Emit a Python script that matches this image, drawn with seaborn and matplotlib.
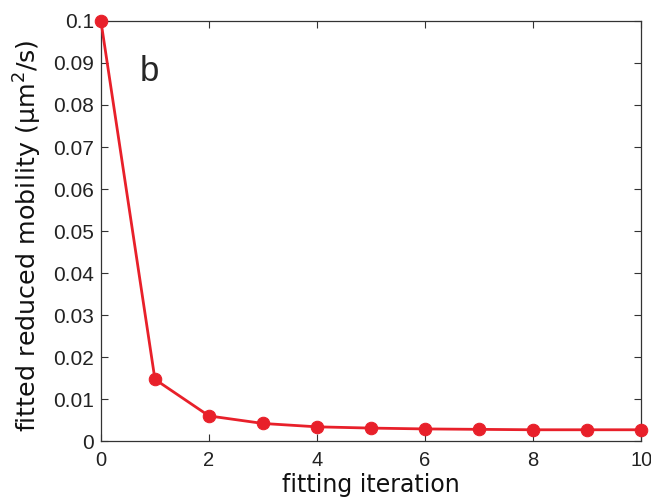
import matplotlib
matplotlib.use("Agg")
import matplotlib.pyplot as plt
import seaborn as sns
import pandas as pd

iterations = [0, 1, 2, 3, 4, 5, 6, 7, 8, 9, 10]
mobility = [0.1, 0.0147, 0.0060, 0.0042, 0.0034, 0.0031, 0.0029, 0.0028, 0.0027, 0.0027, 0.0027]
yticks = [0, 0.01, 0.02, 0.03, 0.04, 0.05, 0.06, 0.07, 0.08, 0.09, 0.1]
ytick_labels = ["0", "0.01", "0.02", "0.03", "0.04", "0.05", "0.06", "0.07", "0.08", "0.09", "0.1"]
xticks = [0, 2, 4, 6, 8, 10]

sns.set_style("white")
plt.rcParams['font.family'] = ['DejaVu Sans']

df = pd.DataFrame({"iteration": iterations, "mobility": mobility})

fig = plt.figure(figsize=(6.51, 4.99), dpi=100)
ax = fig.add_axes([0.155, 0.116, 0.83, 0.842])
sns.lineplot(data=df, x="iteration", y="mobility", ax=ax, color="#e8202a",
             linewidth=2, marker="o", markersize=9, markeredgecolor="#e8202a",
             clip_on=False, zorder=5)

ax.set_xlim(0, 10)
ax.set_ylim(0, 0.1)
ax.set_xticks(xticks)
ax.set_xticklabels([str(x) for x in xticks], fontfamily="Liberation Sans", fontsize=14.5)
ax.set_yticks(yticks)
ax.set_yticklabels(ytick_labels, fontfamily="Liberation Sans", fontsize=15)
ax.tick_params(direction="in", length=5, width=0.8, color="#333333",
               top=True, right=True, bottom=True, left=True, labelcolor="#222222")
ax.tick_params(axis="x", pad=7)
ax.tick_params(axis="y", pad=5)
for s in ax.spines.values():
    s.set_visible(True)
    s.set_color("#333333")
    s.set_linewidth(0.9)

ax.set_xlabel("fitting iteration", fontsize=17, labelpad=2, color="#111111")
ax.set_ylabel("fitted reduced mobility (μm$^2$/s)", fontsize=18.3, color="#111111")
ax.yaxis.set_label_coords(-0.106, 0.488)
ax.text(0.89, 0.088, "b", fontsize=25, fontfamily="Liberation Sans", ha="center", va="center")

fig.savefig("out.png", dpi=100)
